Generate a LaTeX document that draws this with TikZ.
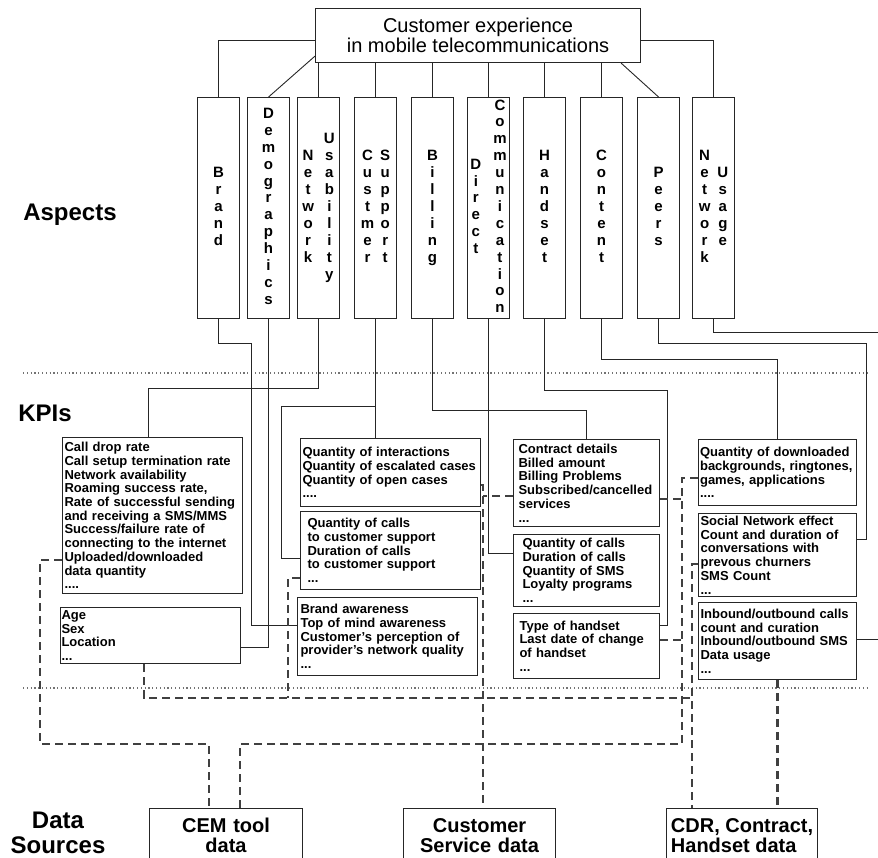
\documentclass[tikz,border=0pt]{standalone}
\usepackage{fontspec}
\setmainfont{Liberation Sans}
\newcommand{\vword}[1]{\begin{tabular}[c]{@{}c@{}}#1\end{tabular}}

\begin{document}
\begin{tikzpicture}[x=1pt, y=-1pt,
  wire/.style={draw=black!85, line width=0.9pt},
  feed/.style={draw=black!75, line width=2.3pt, dash pattern=on 8pt off 5pt},
  sep/.style={draw=black!55, line width=1.2pt, dash pattern=on 1.2pt off 2.6pt}]
	\tikzstyle{cell}=[draw=black!85, line width=1.1pt, anchor=north west]
	\tikzstyle{aspect}=[cell, minimum width=42pt, minimum height=221pt, inner sep=0pt, font=\bfseries\fontsize{15}{16.9}\selectfont]
	\tikzstyle{kpi}=[cell, align=left, inner ysep=0pt, font=\bfseries\fontsize{13}{13.7}\selectfont]
	\tikzstyle{source}=[cell, minimum height=54pt, inner ysep=0pt, inner xsep=4pt, font=\bfseries\fontsize{20}{19.5}\selectfont]
	\tikzstyle{section}=[align=center, font=\bfseries\fontsize{24}{25}\selectfont]

	\useasboundingbox (0,0) rectangle (878,858);

	% levels
	\node[section] (aspLbl) at (70,215) {Aspects};
	\node[section] (kpiLbl) at (45,413) {KPIs};
	\node[section] (srcLbl) at (58,833) {Data\\Sources};
	\draw[sep] (23,373) -- (867,373);
	\draw[sep] (23,688) -- (867,688);

	% root
	\node[cell, minimum width=325pt, minimum height=54pt, inner sep=0pt, align=center,
	      font=\fontsize{20}{20}\selectfont] (cx) at (315,8) {Customer experience\\in mobile telecommunications};

	% aspects
	\node[aspect] (brand) at (197,97) {\vword{B\\r\\a\\n\\d}};
	\node[aspect] (demo)  at (247,97) {\vword{D\\e\\m\\o\\g\\r\\a\\p\\h\\i\\c\\s}};
	\node[aspect] (nusab) at (297,97) {\vword{N\\e\\t\\w\\o\\r\\k}\hspace{10pt}\vword{U\\s\\a\\b\\i\\l\\i\\t\\y}};
	\node[aspect] (csup)  at (354,97) {\vword{C\\u\\s\\t\\m\\e\\r}\hspace{6pt}\vword{S\\u\\p\\p\\o\\r\\t}};
	\node[aspect] (bill)  at (411,97) {\vword{B\\i\\l\\l\\i\\n\\g}};
	\node[aspect] (dcom)  at (467,97) {\vword{D\\i\\r\\e\\c\\t}\hspace{12pt}\vword{C\\o\\m\\m\\u\\n\\i\\c\\a\\t\\i\\o\\n}};
	\node[aspect] (hset)  at (523,97) {\vword{H\\a\\n\\d\\s\\e\\t}};
	\node[aspect] (cont)  at (580,97) {\vword{C\\o\\n\\t\\e\\n\\t}};
	\node[aspect] (peers) at (637,97) {\vword{P\\e\\e\\r\\s}};
	\node[aspect] (nuse)  at (692,97) {\vword{N\\e\\t\\w\\o\\r\\k}\hspace{7pt}\vword{U\\s\\a\\g\\e}};

	% KPIs
	\node[kpi, inner xsep=2pt, text width=176pt, minimum height=156pt] (nuKPI) at (62,437)
	  {Call drop rate\\Call setup termination rate\\Network availability\\Roaming success rate,\\Rate of successful sending\\and receiving a SMS/MMS\\Success/failure rate of\\connecting to the internet\\Uploaded/downloaded\\data quantity\\....};
	\node[kpi, inner xsep=1pt, text width=178pt, minimum height=56pt] (demoKPI) at (60,607)
	  {Age\\Sex\\Location\\...};
	\node[kpi, inner xsep=2pt, text width=176pt, minimum height=68pt] (csKPIa) at (300,438)
	  {Quantity of interactions\\Quantity of escalated cases\\Quantity of open cases\\....};
	\node[kpi, inner xsep=7pt, text width=166pt, minimum height=78pt] (csKPIb) at (300,511)
	  {Quantity of calls\\to customer support\\Duration of calls\\to customer support\\...};
	\node[kpi, inner xsep=3pt, text width=174pt, minimum height=78pt] (brandKPI) at (297,597)
	  {Brand awareness\\Top of mind awareness\\Customer's perception of\\provider's network quality\\...};
	\node[kpi, inner xsep=5pt, text width=136pt, minimum height=87pt] (billKPI) at (513,439)
	  {Contract details\\Billed amount\\Billing Problems\\Subscribed/cancelled\\services\\...};
	\node[kpi, inner xsep=9pt, text width=128pt, minimum height=72pt] (dcKPI) at (513,534)
	  {Quantity of calls\\Duration of calls\\Quantity of SMS\\Loyalty programs\\...};
	\node[kpi, inner xsep=6pt, text width=134pt, minimum height=65pt] (hsKPI) at (513,613)
	  {Type of handset\\Last date of change\\of handset\\...};
	\node[kpi, inner xsep=1.5pt, text width=155pt, minimum height=66pt] (contKPI) at (698,439)
	  {Quantity of downloaded\\backgrounds, ringtones,\\games, applications\\....};
	\node[kpi, inner xsep=2pt, text width=154pt, minimum height=83pt] (peersKPI) at (698,513)
	  {Social Network effect\\Count and duration of\\conversations with\\prevous churners\\SMS Count\\...};
	\node[kpi, inner xsep=2pt, text width=154pt, minimum height=77pt] (nuseKPI) at (698,602)
	  {Inbound/outbound calls\\count and curation\\Inbound/outbound SMS\\Data usage\\...};

	% data sources
	\node[source, minimum width=153pt, text width=145pt, align=center] (cem) at (149,808) {CEM tool\\data};
	\node[source, minimum width=152pt, text width=144pt, align=center] (csd) at (403,808) {Customer\\Service data};
	\node[source, minimum width=151pt, align=left] (cdr) at (666,808) {CDR, Contract,\\Handset data};
	\coordinate (offU) at (885,332);
	\coordinate (offK) at (885,639);

	% root to aspects
	\draw[wire] (cx.west |- 0,40) -| (brand.north);
	\draw[wire] ([yshift=7pt]cx.south west) -- (demo.north);
	\foreach \a in {nusab, csup, bill, dcom, hset, cont}
		\draw[wire] (cx.south -| \a.north) -- (\a.north);
	\draw[wire] ([xshift=-20pt]cx.south east) -- (peers.north);
	\draw[wire] (cx.east |- 0,40) -| (nuse.north);

	% aspects to KPIs
	\draw[wire] (brand.south) |- (251,343) |- (brandKPI.west |- 0,625);
	\draw[wire] (demo.south) |- (demoKPI.east |- 0,647);
	\draw[wire] (nusab.south) |- (148,388) -- (nuKPI.north -| 148,0);
	\draw[wire] (csup.south) -- (csKPIa.north -| csup.south);
	\draw[wire] (csup.south |- 0,406) -- (281,406) |- (csKPIb.west |- 0,558);
	\draw[wire] (bill.south) |- (billKPI.north |- 0,410) -- (billKPI.north);
	\draw[wire] (dcom.south) |- (dcKPI.west |- 0,553);
	\draw[wire] (hset.south) |- (667,390) |- (hsKPI.east |- 0,625);
	\draw[wire] (cont.south) |- (contKPI.north |- 0,359) -- (contKPI.north);
	\draw[wire] (peers.south) |- (866,343) |- (peersKPI.east |- 0,539);
	\draw[wire] (nuse.south) |- (offU);
	\draw[wire] (nuseKPI.east |- 0,639) -- (offK);

	% KPIs to data sources
	\draw[feed] (nuKPI.west |- 0,560) -- (40,560) |- (209,744) -- (cem.north -| 209,0);
	\draw[feed] (contKPI.west |- 0,478) -| (682,744) -| (cem.north -| 240,0);
	\draw[feed] (billKPI.east |- 0,499) -- (682,499);
	\draw[feed] (hsKPI.east |- 0,640) -- (682,640);
	\draw[feed] (csKPIa.east |- 0,485) -| (csd.north -| 483,0);
	\draw[feed] (billKPI.west |- 0,496) -- (483,496);
	\draw[feed] (peersKPI.west |- 0,564) -| (cdr.north -| 692,0);
	\draw[feed] (demoKPI.south -| 144,0) |- (692,698);
	\draw[feed] (csKPIb.west |- 0,578) -| (288,698);
	\draw[feed] (nuseKPI.south) -- (cdr.north -| nuseKPI.south);
\end{tikzpicture}
\end{document}
